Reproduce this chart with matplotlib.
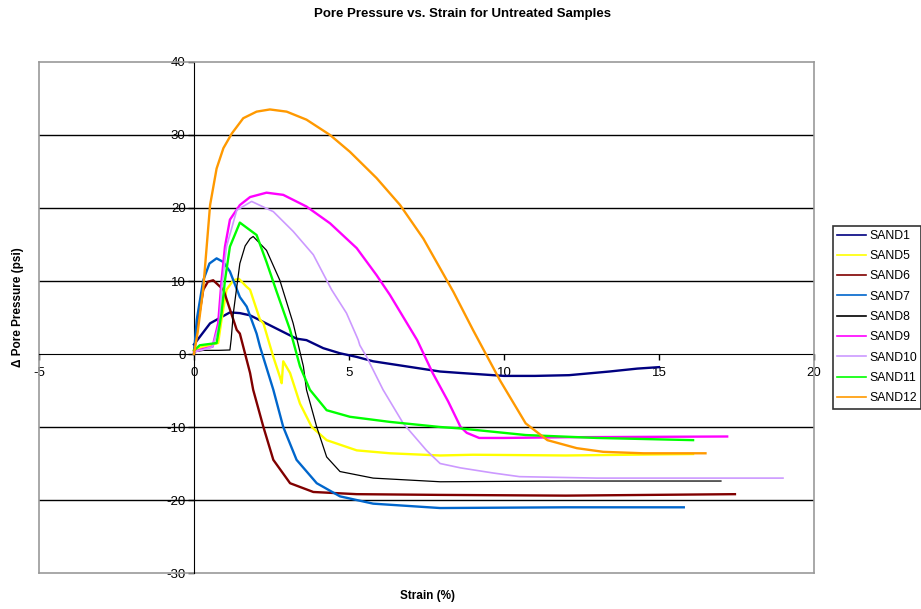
import matplotlib
matplotlib.use("Agg")
from matplotlib import pyplot as plt

plt.rcParams['font.family'] = ['Liberation Sans', 'DejaVu Sans']
plt.rcParams['axes.unicode_minus'] = False

# strain (%) and delta pore pressure (psi)
sand1_x = [0, 0.52, 1.16, 1.48, 1.81, 2.56, 3.31, 3.63, 4.17, 4.71, 5.25, 5.78, 6.86, 7.94, 8.6, 10.0, 11.0, 12.1, 13.4, 14.3, 15.0]
sand1_y = [1.3, 4.2, 5.7, 5.6, 5.3, 3.7, 2.1, 1.9, 0.8, 0.1, -0.4, -1.0, -1.7, -2.4, -2.6, -3.0, -3.0, -2.9, -2.4, -2.0, -1.8]

sand5_x = [0, 0.3, 0.78, 0.89, 1.05, 1.27, 1.45, 1.7, 1.81, 2.13, 2.24, 2.56, 2.77, 2.83, 2.88, 3.1, 3.42, 3.8, 4.28, 5.25, 6.32, 7.94, 9.0, 12.0, 16.1]
sand5_y = [0.5, 1.0, 1.5, 4.7, 8.8, 10.1, 10.3, 9.2, 8.8, 4.7, 4.2, -0.4, -3.1, -4.0, -1.0, -2.6, -6.8, -10.0, -11.8, -13.2, -13.6, -13.9, -13.8, -13.9, -13.7]

sand6_x = [0, 0.09, 0.3, 0.45, 0.62, 0.95, 1.38, 1.48, 1.81, 1.91, 2.24, 2.56, 3.1, 3.85, 5.25, 7.94, 12.0, 17.45]
sand6_y = [0, 3.3, 8.8, 9.9, 10.1, 8.8, 3.3, 2.8, -2.6, -4.9, -10.0, -14.5, -17.7, -18.9, -19.2, -19.3, -19.4, -19.2]

sand7_x = [0, 0.09, 0.3, 0.5, 0.73, 0.95, 1.16, 1.48, 1.7, 2.02, 2.13, 2.56, 2.88, 3.31, 3.96, 4.71, 5.78, 7.94, 12.0, 15.8]
sand7_y = [0, 4.7, 10.1, 12.4, 13.1, 12.6, 11.3, 7.8, 6.5, 2.8, 1.0, -4.9, -10.0, -14.5, -17.7, -19.5, -20.5, -21.1, -21.0, -21.0]

sand8_x = [0, 0.3, 0.8, 1.16, 1.2, 1.27, 1.48, 1.65, 1.81, 1.91, 2.34, 2.77, 3.2, 3.53, 3.63, 3.96, 4.28, 4.71, 5.78, 7.94, 12.0, 17.0]
sand8_y = [0.3, 0.5, 0.5, 0.55, 2.0, 5.6, 12.4, 14.8, 15.8, 16.1, 14.2, 10.1, 4.2, -1.7, -4.9, -10.0, -14.1, -16.1, -17.0, -17.5, -17.4, -17.4]

sand9_x = [0, 0.3, 0.6, 0.78, 0.89, 1.0, 1.16, 1.48, 1.81, 2.34, 2.88, 3.63, 4.39, 5.25, 5.89, 6.32, 7.2, 7.7, 8.2, 8.6, 8.8, 9.2, 10.0, 12.0, 17.2]
sand9_y = [0.3, 0.7, 1.0, 4.2, 10.1, 14.7, 18.4, 20.4, 21.5, 22.1, 21.8, 20.2, 17.9, 14.5, 10.8, 8.1, 1.9, -2.6, -6.5, -10.0, -10.8, -11.5, -11.5, -11.4, -11.3]

sand10_x = [0, 0.3, 0.6, 0.82, 0.89, 1.05, 1.38, 1.86, 2.56, 3.2, 3.85, 4.44, 4.92, 5.25, 5.3, 5.35, 5.57, 6.1, 6.75, 7.5, 7.94, 8.6, 9.65, 10.5, 13.0, 19.0]
sand10_y = [0.3, 0.6, 1.0, 4.2, 8.8, 14.7, 19.7, 20.9, 19.5, 16.8, 13.6, 8.8, 5.6, 2.4, 1.9, 1.2, -0.4, -4.9, -9.5, -13.2, -15.0, -15.6, -16.3, -16.8, -17.0, -17.0]

sand11_x = [0, 0.19, 0.73, 0.89, 1.0, 1.16, 1.48, 2.02, 2.34, 2.67, 3.1, 3.42, 3.74, 4.28, 5.03, 6.32, 7.94, 8.6, 10.7, 13.0, 16.1]
sand11_y = [0.5, 1.2, 1.5, 5.6, 10.1, 14.7, 18.0, 16.3, 12.6, 8.5, 3.3, -1.7, -4.9, -7.7, -8.6, -9.3, -10.0, -10.2, -11.1, -11.5, -11.8]

sand12_x = [0, 0.12, 0.3, 0.52, 0.73, 0.95, 1.22, 1.59, 2.02, 2.45, 2.99, 3.63, 4.39, 5.03, 5.89, 6.65, 7.4, 8.37, 9.0, 9.87, 10.7, 11.4, 12.35, 13.2, 14.5, 16.5]
sand12_y = [0, 3.0, 9.0, 20.4, 25.4, 28.2, 30.2, 32.3, 33.2, 33.5, 33.2, 32.1, 30.0, 27.7, 24.1, 20.4, 15.8, 8.5, 3.3, -3.6, -9.5, -11.8, -12.9, -13.4, -13.6, -13.6]

names = ["SAND1", "SAND5", "SAND6", "SAND7", "SAND8", "SAND9", "SAND10", "SAND11", "SAND12"]
xs = [sand1_x, sand5_x, sand6_x, sand7_x, sand8_x, sand9_x, sand10_x, sand11_x, sand12_x]
ys = [sand1_y, sand5_y, sand6_y, sand7_y, sand8_y, sand9_y, sand10_y, sand11_y, sand12_y]
colors = ["#000080", "#ffff00", "#800000", "#0066cc", "#000000", "#ff00ff", "#cc99ff", "#00ff00", "#ff9900"]
widths = [1.7, 1.7, 1.7, 1.7, 0.9, 1.7, 1.2, 1.7, 1.7]

fig = plt.figure(figsize=(9.21, 6.09), dpi=100)
ax = fig.add_axes([0.0423, 0.0591, 0.8415, 0.8391])

for y in [-20, -10, 10, 20, 30]:
    ax.axhline(y, color="black", lw=1, zorder=1)

for x, y, c, w, n in zip(xs, ys, colors, widths, names):
    ax.plot(x, y, color=c, lw=w, label=n, zorder=3, solid_joinstyle='round')

ax.set_xlim(-5, 20)
ax.set_ylim(-30, 40)
ax.set_xticks([-5, 0, 5, 10, 15, 20])
ax.set_yticks([-30, -20, -10, 0, 10, 20, 30, 40])

# axes cross at zero like the original
ax.spines['left'].set_position(('data', 0))
ax.spines['bottom'].set_position(('data', 0))
ax.spines['left'].set_color("black")
ax.spines['bottom'].set_color("black")
ax.spines['left'].set_zorder(2)
ax.spines['bottom'].set_zorder(2)
ax.spines['top'].set_color("#999999")
ax.spines['right'].set_color("#999999")
ax.spines['top'].set_linewidth(1.2)
ax.spines['right'].set_linewidth(1.2)
ax.axvline(-5, color="#999999", lw=1.2, clip_on=False)
ax.axhline(-30, color="#999999", lw=1.2, clip_on=False)

ax.tick_params(axis='both', direction='out', length=4, width=1, labelsize=9.5, colors="black")
ax.tick_params(axis='y', pad=2)
ax.tick_params(axis='x', pad=5)

fig.text(0.502, 0.977, "Pore Pressure vs. Strain for Untreated Samples", ha='center', va='center',
         fontsize=9.5, fontweight='bold')
fig.text(0.464, 0.022, "Strain (%)", ha='center', va='center', fontsize=8.5, fontweight='bold')
fig.text(0.02, 0.495, "\u0394 Pore Pressure (psi)", ha='center', va='center', rotation=90,
         fontsize=8.5, fontweight='bold')

leg = ax.legend(loc='upper left', bbox_to_anchor=(1.024, 0.68), fontsize=8.8, frameon=True,
                fancybox=False, borderpad=0.35, labelspacing=0.68, handlelength=2.4,
                handletextpad=0.25, borderaxespad=0)
leg.get_frame().set_edgecolor("black")
leg.get_frame().set_linewidth(1.2)
for line in leg.get_lines():
    line.set_linewidth(1.2)

plt.savefig("out.png", dpi=100)
